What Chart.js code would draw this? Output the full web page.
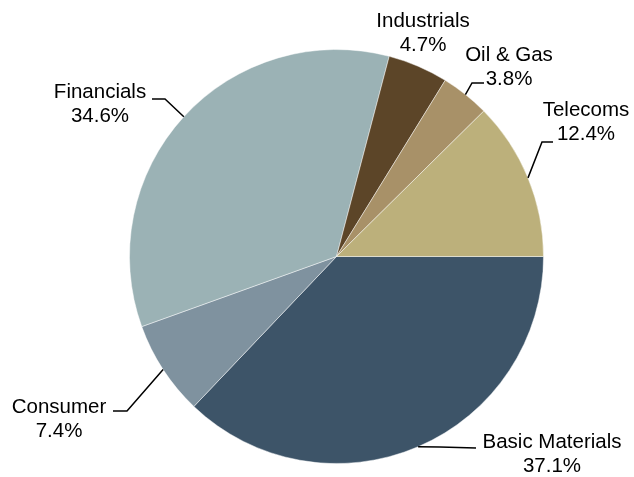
<!DOCTYPE html>
<html>
<head>
<meta charset="utf-8">
<script src="https://cdn.jsdelivr.net/npm/chart.js@4"></script>
<style>
  html, body { margin: 0; padding: 0; background: #fff; }
  #wrap { width: 634px; height: 477px; }
</style>
</head>
<body>
<div id="wrap"><canvas id="myChart" width="634" height="477"></canvas></div>
<script>
// sector weights
const sectors = ["Basic Materials", "Consumer", "Financials", "Industrials", "Oil & Gas", "Telecoms"];
const shares = [37.1, 7.4, 34.6, 4.7, 3.8, 12.4];
const sliceColors = ["#3d5468", "#7f929f", "#9bb2b5", "#5c4528", "#a89168", "#bcb07b"];

// where each label sits, relative to the pie (text centre + leader elbow/end)
const labelSpots = [
  { tx: 552, ty: 442, elbow: [440, 447], end: [476, 448] },
  { tx: 59,  ty: 407, elbow: [127, 411], end: [113, 411] },
  { tx: 100, ty: 92,  elbow: [165, 99],  end: [152, 99] },
  { tx: 423, ty: 21,  elbow: null,       end: null },
  { tx: 509, ty: 55,  elbow: [472, 83],  end: [484, 83] },
  { tx: 586, ty: 110, elbow: [542, 142], end: [553, 142] }
];

const calloutPlugin = {
  id: 'callouts',
  afterDatasetsDraw(chart) {
    const ctx = chart.ctx;
    const arcs = chart.getDatasetMeta(0).data;
    ctx.save();
    ctx.strokeStyle = '#000';
    ctx.lineWidth = 1.5;
    ctx.fillStyle = '#000';
    ctx.font = '20.5px "Liberation Sans", Arial, sans-serif';
    ctx.textAlign = 'center';
    ctx.textBaseline = 'middle';
    arcs.forEach((arc, i) => {
      const spot = labelSpots[i];
      const mid = (arc.startAngle + arc.endAngle) / 2;
      const ex = arc.x + Math.cos(mid) * arc.outerRadius;
      const ey = arc.y + Math.sin(mid) * arc.outerRadius;
      if (spot.elbow) {
        ctx.beginPath();
        ctx.moveTo(ex, ey);
        ctx.lineTo(spot.elbow[0], spot.elbow[1]);
        ctx.lineTo(spot.end[0], spot.end[1]);
        ctx.stroke();
      }
      ctx.fillText(sectors[i], spot.tx, spot.ty);
      ctx.fillText(shares[i].toFixed(1) + '%', spot.tx, spot.ty + 24);
    });
    ctx.restore();
  }
};

new Chart("myChart", {
  type: "pie",
  data: {
    labels: sectors,
    datasets: [{
      data: shares,
      backgroundColor: sliceColors,
      borderColor: 'rgba(255,255,255,0.45)',
      borderWidth: 1
    }]
  },
  options: {
    responsive: false,
    animation: false,
    rotation: 90,
    layout: { padding: { left: 129, right: 90, top: 49, bottom: 13 } },
    plugins: {
      legend: { display: false },
      tooltip: { enabled: false }
    }
  },
  plugins: [calloutPlugin]
});
</script>
</body>
</html>
